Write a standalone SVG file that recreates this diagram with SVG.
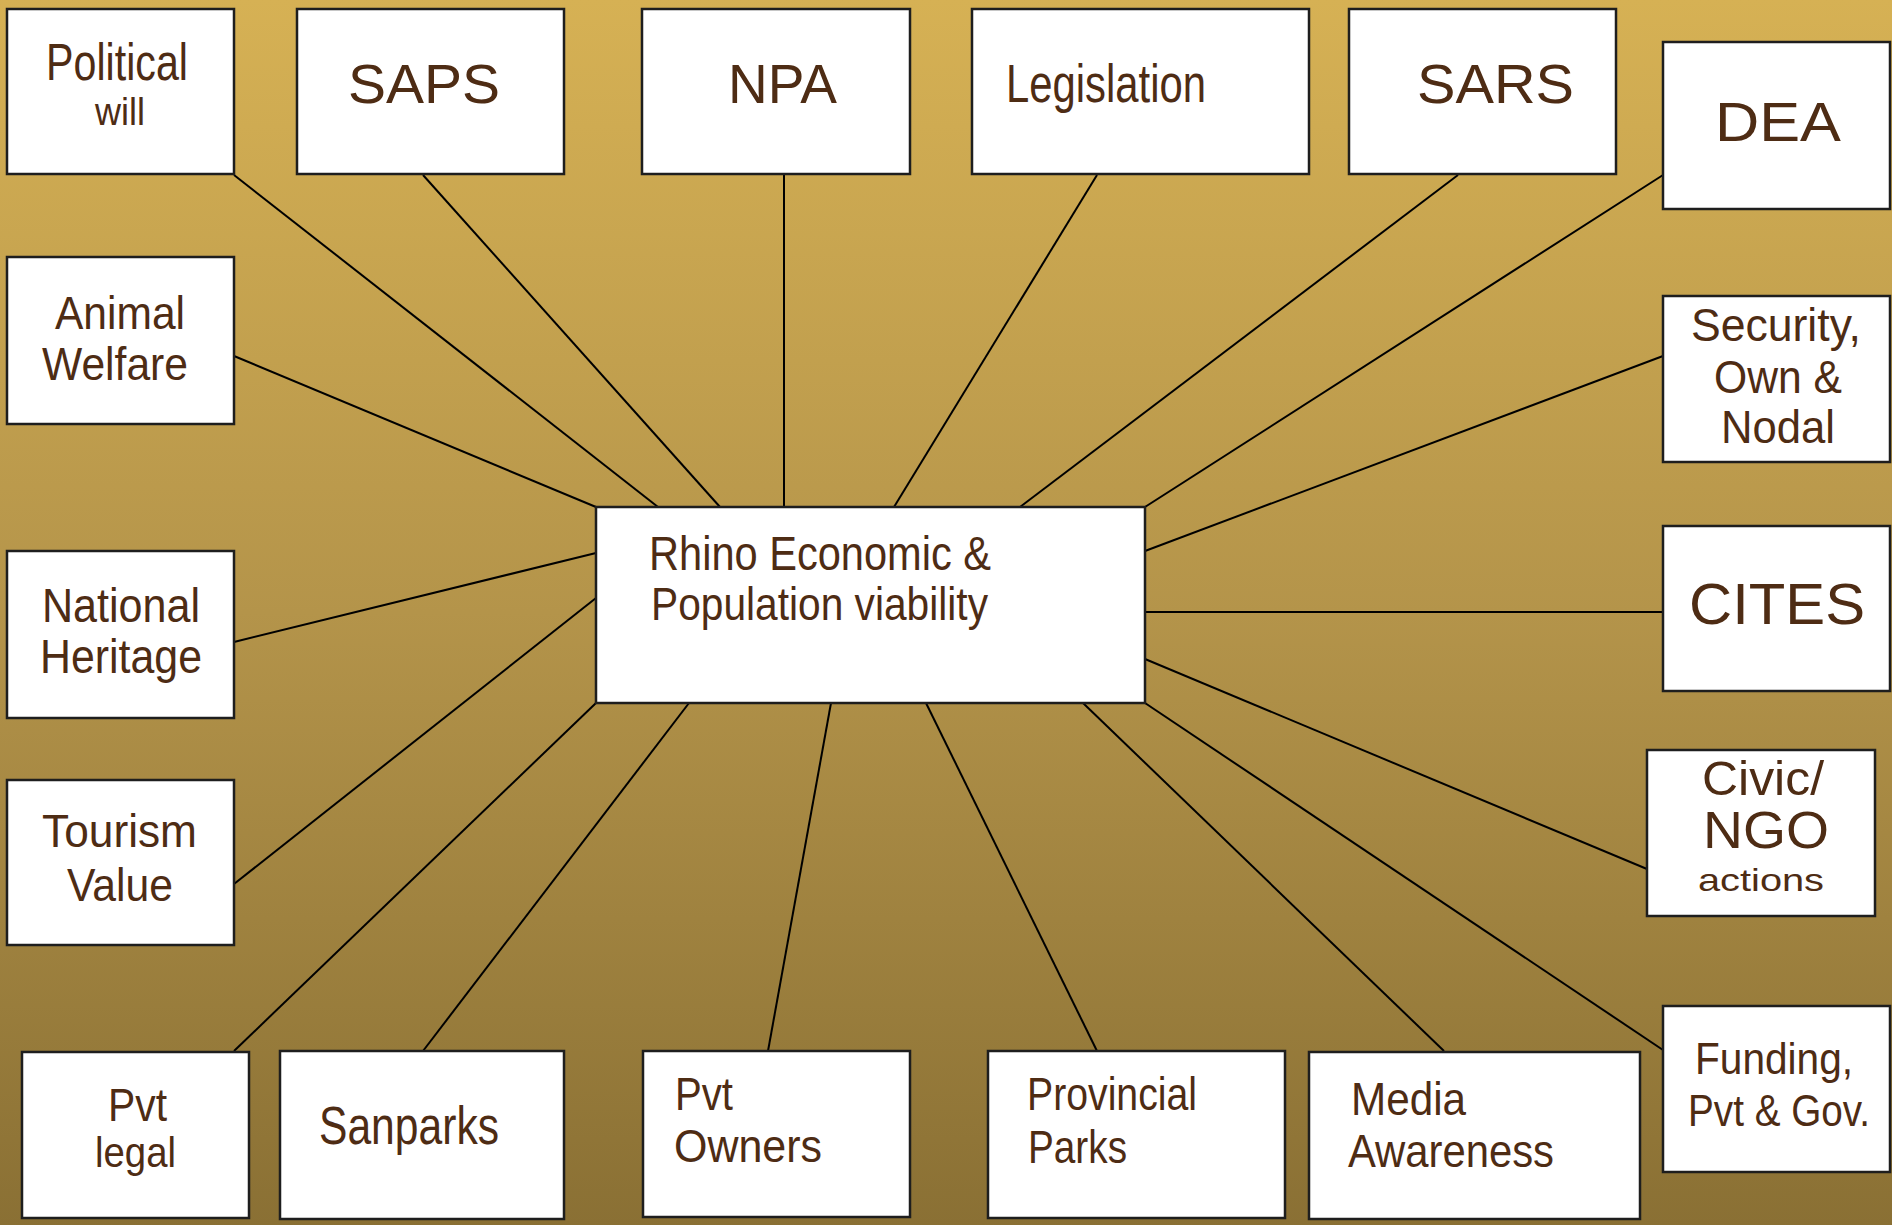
<svg xmlns="http://www.w3.org/2000/svg" width="1892" height="1225" viewBox="0 0 1892 1225">
<defs>
<linearGradient id="bg" x1="0" y1="0" x2="0" y2="1">
<stop offset="0" stop-color="#D6B154"/>
<stop offset="0.5" stop-color="#B4944A"/>
<stop offset="1" stop-color="#8A7034"/>
</linearGradient>
<style>
.box{fill:#FFFFFF;stroke:#1E1E1E;stroke-width:2.5}
.ln{stroke:#000000;stroke-width:2;fill:none}
text{font-family:"Liberation Sans Narrow","Liberation Sans",Arial,sans-serif;fill:#4E2C14}
</style>
</defs>
<rect x="0" y="0" width="1892" height="1225" fill="url(#bg)"/>
<g id="connectors">
<line class="ln" x1="234" y1="175" x2="658" y2="507"/>
<line class="ln" x1="423" y1="175" x2="720" y2="507"/>
<line class="ln" x1="784" y1="175" x2="784" y2="507"/>
<line class="ln" x1="1097" y1="175" x2="894" y2="507"/>
<line class="ln" x1="1458" y1="175" x2="1020" y2="507"/>
<line class="ln" x1="1663" y1="175" x2="1145" y2="507"/>
<line class="ln" x1="234" y1="356" x2="596" y2="507"/>
<line class="ln" x1="1663" y1="356" x2="1145" y2="551"/>
<line class="ln" x1="234" y1="642" x2="596" y2="553"/>
<line class="ln" x1="1145" y1="612" x2="1663" y2="612"/>
<line class="ln" x1="234" y1="884" x2="596" y2="598"/>
<line class="ln" x1="1145" y1="659" x2="1647" y2="869"/>
<line class="ln" x1="234" y1="1051" x2="596" y2="703"/>
<line class="ln" x1="423" y1="1051" x2="689" y2="703"/>
<line class="ln" x1="768" y1="1051" x2="831" y2="703"/>
<line class="ln" x1="1097" y1="1051" x2="926" y2="703"/>
<line class="ln" x1="1444" y1="1051" x2="1083" y2="703"/>
<line class="ln" x1="1663" y1="1050" x2="1145" y2="703"/>
</g>
<g id="center">
<rect class="box" x="596" y="507" width="549" height="196"/>
<text x="649" y="570" font-size="48" textLength="342" lengthAdjust="spacingAndGlyphs">Rhino Economic &amp;</text>
<text x="651" y="620" font-size="47" textLength="337" lengthAdjust="spacingAndGlyphs">Population viability</text>
</g>
<g id="political-will">
<rect class="box" x="7" y="9" width="227" height="165"/>
<text x="46" y="80" font-size="52" textLength="142" lengthAdjust="spacingAndGlyphs">Political</text>
<text x="95" y="125" font-size="38" textLength="50" lengthAdjust="spacingAndGlyphs">will</text>
</g>
<g id="saps">
<rect class="box" x="297" y="9" width="267" height="165"/>
<text x="348" y="103" font-size="56" textLength="152" lengthAdjust="spacingAndGlyphs">SAPS</text>
</g>
<g id="npa">
<rect class="box" x="642" y="9" width="268" height="165"/>
<text x="728" y="103" font-size="56" textLength="109" lengthAdjust="spacingAndGlyphs">NPA</text>
</g>
<g id="legislation">
<rect class="box" x="972" y="9" width="337" height="165"/>
<text x="1006" y="102" font-size="54" textLength="200" lengthAdjust="spacingAndGlyphs">Legislation</text>
</g>
<g id="sars">
<rect class="box" x="1349" y="9" width="267" height="165"/>
<text x="1417" y="103" font-size="56" textLength="157" lengthAdjust="spacingAndGlyphs">SARS</text>
</g>
<g id="dea">
<rect class="box" x="1663" y="42" width="227" height="167"/>
<text x="1715" y="141" font-size="56" textLength="126" lengthAdjust="spacingAndGlyphs">DEA</text>
</g>
<g id="animal-welfare">
<rect class="box" x="7" y="257" width="227" height="167"/>
<text x="55" y="329" font-size="47" textLength="130" lengthAdjust="spacingAndGlyphs">Animal</text>
<text x="42" y="380" font-size="47" textLength="146" lengthAdjust="spacingAndGlyphs">Welfare</text>
</g>
<g id="security">
<rect class="box" x="1663" y="296" width="227" height="166"/>
<text x="1691" y="341" font-size="47" textLength="170" lengthAdjust="spacingAndGlyphs">Security,</text>
<text x="1714" y="393" font-size="47" textLength="128" lengthAdjust="spacingAndGlyphs">Own &amp;</text>
<text x="1721" y="443" font-size="47" textLength="114" lengthAdjust="spacingAndGlyphs">Nodal</text>
</g>
<g id="national-heritage">
<rect class="box" x="7" y="551" width="227" height="167"/>
<text x="42" y="622" font-size="48" textLength="158" lengthAdjust="spacingAndGlyphs">National</text>
<text x="40" y="673" font-size="48" textLength="162" lengthAdjust="spacingAndGlyphs">Heritage</text>
</g>
<g id="cites">
<rect class="box" x="1663" y="526" width="227" height="165"/>
<text x="1689" y="624" font-size="57" textLength="176" lengthAdjust="spacingAndGlyphs">CITES</text>
</g>
<g id="tourism-value">
<rect class="box" x="7" y="780" width="227" height="165"/>
<text x="42" y="847" font-size="47" textLength="155" lengthAdjust="spacingAndGlyphs">Tourism</text>
<text x="67" y="901" font-size="47" textLength="106" lengthAdjust="spacingAndGlyphs">Value</text>
</g>
<g id="civic-ngo">
<rect class="box" x="1647" y="750" width="228" height="166"/>
<text x="1702" y="795" font-size="48" textLength="122" lengthAdjust="spacingAndGlyphs">Civic/</text>
<text x="1703" y="848" font-size="52" textLength="126" lengthAdjust="spacingAndGlyphs">NGO</text>
<text x="1698" y="891" font-size="32" textLength="126" lengthAdjust="spacingAndGlyphs">actions</text>
</g>
<g id="pvt-legal">
<rect class="box" x="22" y="1052" width="227" height="166"/>
<text x="108" y="1121" font-size="46" textLength="59" lengthAdjust="spacingAndGlyphs">Pvt</text>
<text x="95" y="1167" font-size="43" textLength="81" lengthAdjust="spacingAndGlyphs">legal</text>
</g>
<g id="sanparks">
<rect class="box" x="280" y="1051" width="284" height="168"/>
<text x="319" y="1144" font-size="53" textLength="180" lengthAdjust="spacingAndGlyphs">Sanparks</text>
</g>
<g id="pvt-owners">
<rect class="box" x="643" y="1051" width="267" height="166"/>
<text x="675" y="1110" font-size="47" textLength="58" lengthAdjust="spacingAndGlyphs">Pvt</text>
<text x="674" y="1162" font-size="47" textLength="148" lengthAdjust="spacingAndGlyphs">Owners</text>
</g>
<g id="provincial-parks">
<rect class="box" x="988" y="1051" width="297" height="167"/>
<text x="1027" y="1110" font-size="46" textLength="170" lengthAdjust="spacingAndGlyphs">Provincial</text>
<text x="1028" y="1163" font-size="46" textLength="99" lengthAdjust="spacingAndGlyphs">Parks</text>
</g>
<g id="media-awareness">
<rect class="box" x="1309" y="1052" width="331" height="167"/>
<text x="1351" y="1115" font-size="47" textLength="115" lengthAdjust="spacingAndGlyphs">Media</text>
<text x="1348" y="1167" font-size="47" textLength="206" lengthAdjust="spacingAndGlyphs">Awareness</text>
</g>
<g id="funding">
<rect class="box" x="1663" y="1006" width="227" height="166"/>
<text x="1695" y="1074" font-size="45" textLength="158" lengthAdjust="spacingAndGlyphs">Funding,</text>
<text x="1688" y="1126" font-size="44" textLength="182" lengthAdjust="spacingAndGlyphs">Pvt &amp; Gov.</text>
</g>
</svg>
